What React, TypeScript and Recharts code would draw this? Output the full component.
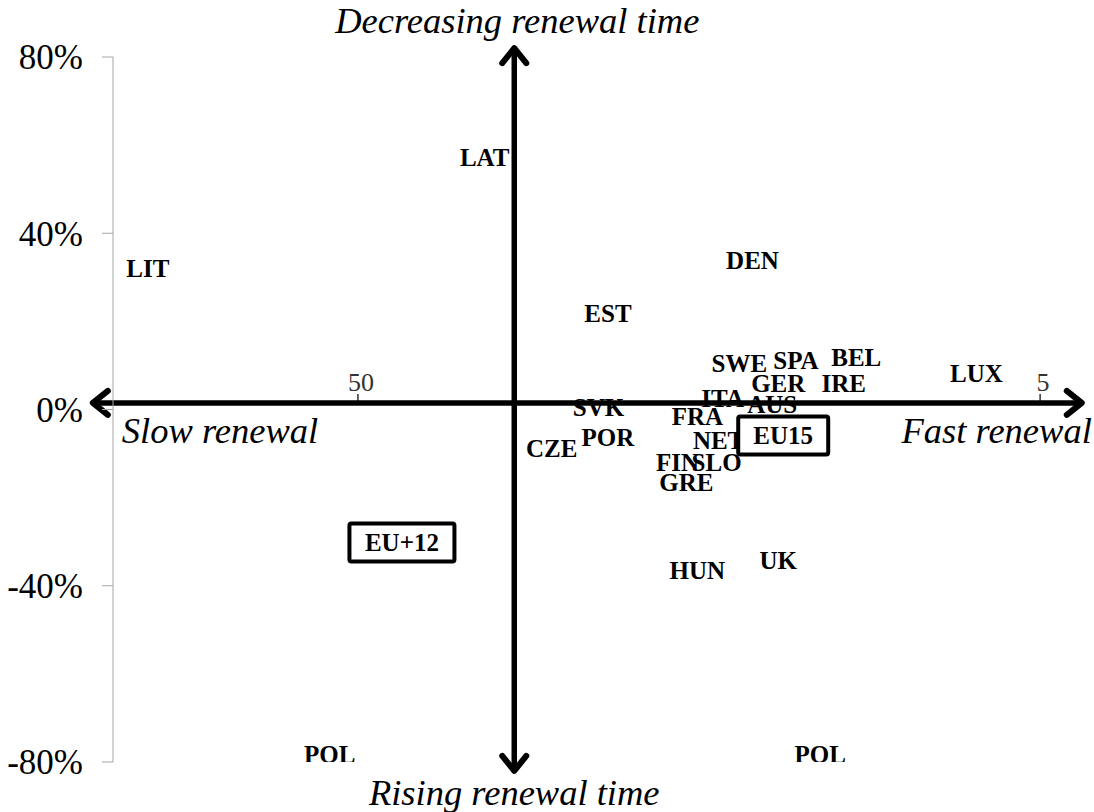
import React from "react";
import { ReferenceLine, Scatter, ScatterChart, XAxis, YAxis } from "recharts";

// country codes, renewal time in years (x, log, reversed) and change in renewal time (y, %)
const countries = [
  "LIT", "LAT", "DEN", "EST", "SWE", "SPA", "BEL", "GER", "IRE", "LUX", "ITA", "AUS",
  "SVK", "FRA", "POR", "NET", "CZE", "FIN", "SLO", "GRE", "HUN", "UK", "POL", "POL",
];
const renewalYears = [
  101.6, 32.6, 13.2, 21.5, 13.8, 11.4, 9.3, 12.1, 9.7, 6.2, 14.6, 12.35,
  22.2, 15.9, 21.5, 14.8, 26, 17.0, 14.9, 16.5, 15.9, 12.1, 55, 10.5,
];
const renewalChange = [
  32, 57.3, 33.9, 21.8, 10.5, 11.1, 11.8, 5.9, 5.9, 8.2, 2.5, 1.1,
  0.5, -1.6, -6.4, -7.0, -8.9, -12, -12, -16.6, -36.6, -34.3, -78.4, -78.4,
];

const groups = ["EU15", "EU+12"];
const groupYears = [11.9, 43.1];
const groupChange = [-5.9, -30.2];

const yTicks = [-80, -40, 0, 40, 80];
const xTicks = [50, 5];

// where the quadrant arrows cross
const crossYears = 29.5;
const crossChange = 1.5;

const SERIF = "Liberation Serif, serif";

const countryData = countries.map((c, i) => ({ x: renewalYears[i], y: renewalChange[i], label: c }));
const groupData = groups.map((g, i) => ({ x: groupYears[i], y: groupChange[i], label: g }));
const xTickData = xTicks.map((v) => ({ x: v, y: crossChange, label: String(v) }));

const labelStyle = { fontFamily: SERIF, fontWeight: "bold" as const, fontSize: 25 };
const titleStyle = { fontFamily: SERIF, fontStyle: "italic" as const, fontSize: 36.5 };

const CountryLabel = (props: any) => {
  const { cx, cy, payload } = props;
  return (
    <text x={cx} y={cy} dy="0.34em" textAnchor="middle" style={labelStyle} fill="#000">
      {payload.label}
    </text>
  );
};

const GroupLabel = (props: any) => {
  const { cx, cy, payload } = props;
  const w = payload.label.length * 15 + 30;
  return (
    <g>
      <rect x={cx - w / 2} y={cy - 19} width={w} height={38} fill="#fff" stroke="#000" strokeWidth={4} rx={2} />
      <text x={cx} y={cy} dy="0.34em" textAnchor="middle" style={labelStyle} fill="#000">
        {payload.label}
      </text>
    </g>
  );
};

const XTickMark = (props: any) => {
  const { cx, cy, payload } = props;
  return (
    <g>
      <line x1={cx} y1={cy - 9} x2={cx} y2={cy} stroke="#000" strokeWidth={1.2} />
      <text x={cx + 3} y={cy - 12} textAnchor="middle" style={{ fontFamily: SERIF, fontSize: 26 }} fill="#333">
        {payload.label}
      </text>
    </g>
  );
};

const HArrow = (props: any) => {
  const { x1, y1, x2 } = props;
  const left = Math.min(x1, x2);
  const right = Math.max(x1, x2);
  return (
    <g>
      <line x1={left + 3} y1={y1} x2={right - 3} y2={y1} stroke="#000" strokeWidth={5.5} />
      <polyline points={`${left + 18},${y1 - 12} ${left + 3},${y1} ${left + 18},${y1 + 12}`} fill="none" stroke="#000" strokeWidth={6} strokeLinecap="round" strokeLinejoin="round" />
      <polyline points={`${right - 18},${y1 - 12} ${right - 3},${y1} ${right - 18},${y1 + 12}`} fill="none" stroke="#000" strokeWidth={6} strokeLinecap="round" strokeLinejoin="round" />
      <text x={left + 32} y={y1 + 40} style={titleStyle} fill="#000">
        Slow renewal
      </text>
      <text x={right + 7} y={y1 + 40} textAnchor="end" style={titleStyle} fill="#000">
        Fast renewal
      </text>
    </g>
  );
};

const VArrow = (props: any) => {
  const { x1, y1, y2 } = props;
  const top = Math.min(y1, y2);
  const bottom = Math.max(y1, y2);
  return (
    <g>
      <line x1={x1} y1={top + 3} x2={x1} y2={bottom - 3} stroke="#000" strokeWidth={5.5} />
      <polyline points={`${x1 - 12},${top + 18} ${x1},${top + 3} ${x1 + 12},${top + 18}`} fill="none" stroke="#000" strokeWidth={6} strokeLinecap="round" strokeLinejoin="round" />
      <polyline points={`${x1 - 12},${bottom - 18} ${x1},${bottom - 3} ${x1 + 12},${bottom - 18}`} fill="none" stroke="#000" strokeWidth={6} strokeLinecap="round" strokeLinejoin="round" />
      <text x={x1 + 3} y={top - 12} textAnchor="middle" style={titleStyle} fill="#000">
        Decreasing renewal time
      </text>
      <text x={x1} y={bottom + 31} textAnchor="middle" style={titleStyle} fill="#000">
        Rising renewal time
      </text>
    </g>
  );
};

export default function App() {
  return (
    <div style={{ position: "absolute", left: 0, top: 0, background: "#fff" }}>
      <ScatterChart width={1094} height={812} margin={{ top: 57, right: 24, bottom: 50, left: 0 }}>
        <XAxis
          type="number"
          dataKey="x"
          scale="log"
          domain={[4.52, 114.3]}
          reversed
          allowDataOverflow
          hide
        />
        <YAxis
          type="number"
          dataKey="y"
          domain={[-80, 80]}
          ticks={yTicks}
          width={113}
          stroke="#a6a6a6"
          tickSize={11}
          tickMargin={19}
          tickFormatter={(v: number) => `${v}%`}
          tick={{ style: { fontFamily: SERIF, fontSize: 35 }, fill: "#000" }}
          allowDataOverflow
        />
        <Scatter data={countryData} shape={(p: any) => <CountryLabel {...p} />} isAnimationActive={false} />
        <ReferenceLine
          segment={[{ x: 123.6, y: crossChange }, { x: 4.3, y: crossChange }]}
          ifOverflow="visible"
          shape={(p: any) => <HArrow {...p} />}
        />
        <ReferenceLine
          segment={[{ x: crossYears, y: 82.7 }, { x: crossYears, y: -82.7 }]}
          ifOverflow="visible"
          shape={(p: any) => <VArrow {...p} />}
        />
        <Scatter data={xTickData} shape={(p: any) => <XTickMark {...p} />} isAnimationActive={false} />
        <Scatter data={groupData} shape={(p: any) => <GroupLabel {...p} />} isAnimationActive={false} />
      </ScatterChart>
    </div>
  );
}
